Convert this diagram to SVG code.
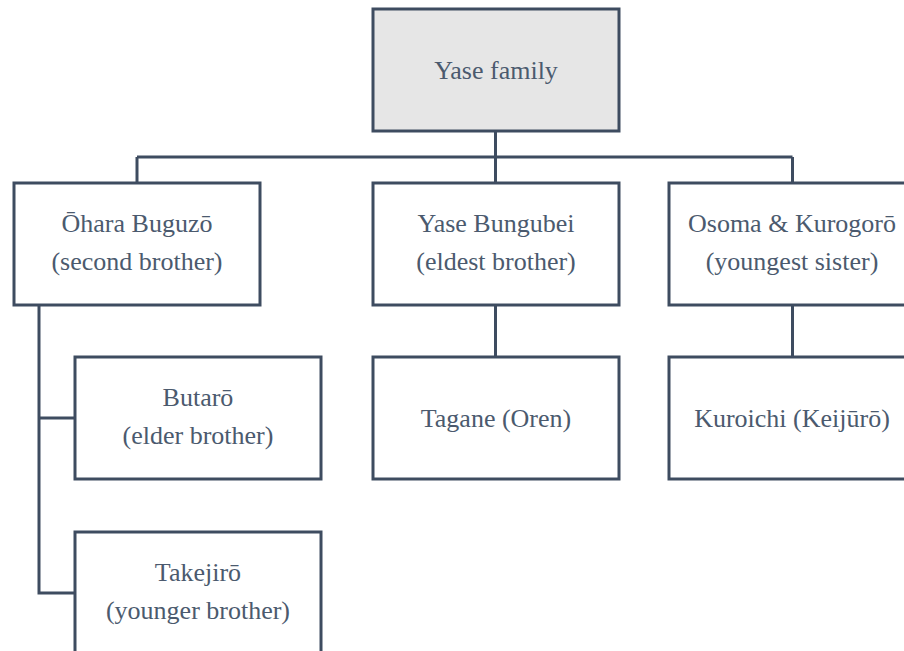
<svg xmlns="http://www.w3.org/2000/svg" width="904" height="651" viewBox="0 0 904 651">
  <style>
    .box { fill: #ffffff; stroke: #3e4c60; stroke-width: 3; }
    .root { fill: #e6e6e6; }
    .lbl { font-size: 26px; fill: #4b5a6e; text-anchor: middle; }
    .link { fill: none; stroke: #3e4c60; stroke-width: 3; }
  </style>
  <rect width="904" height="651" fill="#ffffff"/>

  <g id="connectors">
    <path class="link" d="M495.5 131 V157"/>
    <path class="link" d="M137 157 H792.5"/>
    <path class="link" d="M137 157 V183"/>
    <path class="link" d="M495.5 157 V183"/>
    <path class="link" d="M792.5 157 V183"/>
    <path class="link" d="M39 305 V593 H75"/>
    <path class="link" d="M39 418 H75"/>
    <path class="link" d="M495.5 305 V357"/>
    <path class="link" d="M792.5 305 V357"/>
  </g>

  <g font-family="Liberation Serif, DejaVu Serif, Noto Serif, serif">
    <g id="yase-family">
      <rect class="box root" x="373" y="9" width="246" height="122"/>
      <text class="lbl" x="496" y="79">Yase family</text>
    </g>

    <g id="ohara-buguzo">
      <rect class="box" x="14" y="183" width="246" height="122"/>
      <text class="lbl" x="137" y="232">Ōhara Buguzō</text>
      <text class="lbl" x="137" y="270">(second brother)</text>
    </g>

    <g id="yase-bungubei">
      <rect class="box" x="373" y="183" width="246" height="122"/>
      <text class="lbl" x="496" y="232">Yase Bungubei</text>
      <text class="lbl" x="496" y="270">(eldest brother)</text>
    </g>

    <g id="osoma-kurogoro">
      <rect class="box" x="669" y="183" width="246" height="122"/>
      <text class="lbl" x="792" y="232">Osoma &amp; Kurogorō</text>
      <text class="lbl" x="792" y="270">(youngest sister)</text>
    </g>

    <g id="butaro">
      <rect class="box" x="75" y="357" width="246" height="122"/>
      <text class="lbl" x="198" y="406">Butarō</text>
      <text class="lbl" x="198" y="444">(elder brother)</text>
    </g>

    <g id="takejiro">
      <rect class="box" x="75" y="532" width="246" height="122"/>
      <text class="lbl" x="198" y="581">Takejirō</text>
      <text class="lbl" x="198" y="619">(younger brother)</text>
    </g>

    <g id="tagane">
      <rect class="box" x="373" y="357" width="246" height="122"/>
      <text class="lbl" x="496" y="427">Tagane (Oren)</text>
    </g>

    <g id="kuroichi">
      <rect class="box" x="669" y="357" width="246" height="122"/>
      <text class="lbl" x="792" y="427">Kuroichi (Keijūrō)</text>
    </g>
  </g>
</svg>
